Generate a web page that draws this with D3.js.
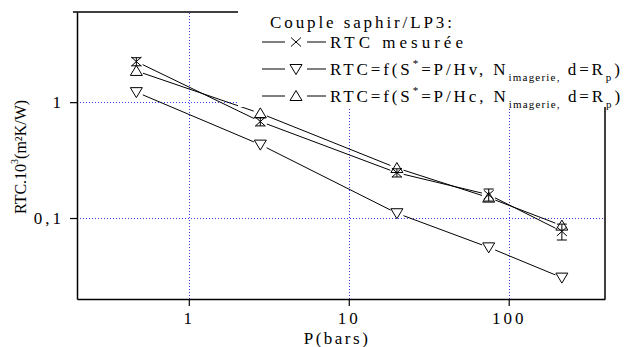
<!DOCTYPE html>
<html>
<head>
<meta charset="utf-8">
<script src="https://cdn.jsdelivr.net/npm/d3@7"></script>
<style>
body { margin: 0; background: #fff; }
svg text { font-family: "Liberation Serif", "Times New Roman", Times, serif !important; fill: #000; }
</style>
</head>
<body>
<script>
// data
const pressure = [0.47, 2.8, 20, 75, 215];
const rtcMesuree = [2.24, 0.68, 0.246, 0.159, 0.0766];
const rtcErr = [0.18, 0.056, 0.02, 0.019, 0.012];
const rtcHv = [1.22, 0.43, 0.110, 0.0558, 0.0306];
const rtcHc = [1.86, 0.80, 0.27, 0.15, 0.086];
const xMajor = [1, 10, 100];
const xMinor = [0.2, 0.3, 0.4, 0.5, 0.6, 0.7, 0.8, 0.9, 2, 3, 4, 5, 6, 7, 8, 9, 20, 30, 40, 50, 60, 70, 80, 90, 200, 300, 400];
const yMajor = [0.1, 1];
const yMajorLabels = ['0,1', '1'];
const yMinor = [0.02, 0.03, 0.04, 0.05, 0.06, 0.07, 0.08, 0.09, 0.2, 0.3, 0.4, 0.5, 0.6, 0.7, 0.8, 0.9, 2, 3, 4, 5, 6];

function main() {
    const width = 624, height = 347;
    const svg = d3.select('body').append('svg')
        .attr('width', width)
        .attr('height', height)
        .attr('font-family', '"Liberation Serif", serif');

    const x = d3.scaleLog().domain([0.2, 400]).range([77, 605]);
    const y = d3.scaleLog().domain([0.02, 6]).range([299, 12]);

    // blue dotted grid
    const grid = svg.append('g')
        .attr('stroke', '#3b3bff')
        .attr('stroke-width', 1)
        .attr('stroke-dasharray', '1,2');
    grid.selectAll('.gx').data(xMajor).enter().append('line')
        .attr('x1', d => Math.round(x(d)) + 0.5).attr('x2', d => Math.round(x(d)) + 0.5)
        .attr('y1', y.range()[0]).attr('y2', y.range()[1]);
    grid.selectAll('.gy').data(yMajor).enter().append('line')
        .attr('y1', d => Math.round(y(d)) + 0.5).attr('y2', d => Math.round(y(d)) + 0.5)
        .attr('x1', x.range()[0]).attr('x2', x.range()[1]);

    // series lines with gaps at the markers
    const series = [rtcMesuree, rtcHv, rtcHc];
    const gap = 7;
    series.forEach(vals => {
        for (let i = 0; i < vals.length - 1; i++) {
            const x0 = x(pressure[i]), y0 = y(vals[i]);
            const x1 = x(pressure[i + 1]), y1 = y(vals[i + 1]);
            const len = Math.hypot(x1 - x0, y1 - y0);
            const ux = (x1 - x0) / len, uy = (y1 - y0) / len;
            svg.append('line')
                .attr('x1', x0 + ux * gap).attr('y1', y0 + uy * gap)
                .attr('x2', x1 - ux * gap).attr('y2', y1 - uy * gap)
                .attr('stroke', '#000').attr('stroke-width', 1);
        }
    });

    // markers
    const mk = svg.append('g').attr('fill', 'none').attr('stroke', '#000').attr('stroke-width', 1);
    mk.selectAll('.up').data(rtcHc).enter().append('path')
        .attr('transform', (d, i) => `translate(${x(pressure[i])},${y(d)})`)
        .attr('d', 'M0,-5.5L6,4.5L-6,4.5Z');
    mk.selectAll('.down').data(rtcHv).enter().append('path')
        .attr('transform', (d, i) => `translate(${x(pressure[i])},${y(d)})`)
        .attr('d', 'M0,5.5L6,-4.5L-6,-4.5Z');
    mk.selectAll('.cross').data(rtcMesuree).enter().append('path')
        .attr('transform', (d, i) => `translate(${x(pressure[i])},${y(d)})`)
        .attr('d', 'M-5,-4.5L5,4.5M5,-4.5L-5,4.5');
    // error bars on measured values
    mk.selectAll('.err').data(rtcMesuree).enter().append('path')
        .attr('d', (d, i) => {
            const cx = x(pressure[i]);
            const t = y(d + rtcErr[i]), b = y(d - rtcErr[i]);
            return `M${cx},${t}L${cx},${b}M${cx - 5},${t}L${cx + 5},${t}M${cx - 5},${b}L${cx + 5},${b}`;
        });

    // axes
    const xAxisG = svg.append('g').attr('transform', `translate(0,${y.range()[0]})`);
    xAxisG.call(d3.axisBottom(x).tickValues(xMinor).tickSize(4).tickFormat('').tickSizeOuter(0));
    xAxisG.call(d3.axisBottom(x).tickValues(xMajor).tickSize(7).tickFormat(d3.format('d')).tickSizeOuter(0));
    const yAxisG = svg.append('g').attr('transform', `translate(${x.range()[0]},0)`);
    yAxisG.call(d3.axisLeft(y).tickValues(yMinor).tickSize(4).tickFormat('').tickSizeOuter(0));
    yAxisG.call(d3.axisLeft(y).tickValues(yMajor).tickSize(7).tickFormat((d, i) => yMajorLabels[i]).tickSizeOuter(0));
    xAxisG.attr('font-family', '"Liberation Serif", serif');
    yAxisG.attr('font-family', '"Liberation Serif", serif');
    svg.selectAll('.domain').attr('stroke-width', 1.5);
    svg.selectAll('.tick line').attr('stroke-width', 1.2);
    xAxisG.selectAll('text').attr('font-size', 17).attr('letter-spacing', 3).attr('dy', '0.9em');
    yAxisG.selectAll('text').attr('font-size', 17).attr('letter-spacing', 3).attr('x', -13);

    // frame: top and right
    svg.append('line').attr('x1', 73).attr('x2', 240).attr('y1', 12).attr('y2', 12)
        .attr('stroke', '#000').attr('stroke-width', 1.5);
    svg.append('line').attr('x1', 605).attr('x2', 605).attr('y1', 12).attr('y2', 299)
        .attr('stroke', '#000').attr('stroke-width', 1.5);

    // legend with white background
    svg.append('rect').attr('x', 238).attr('y', 0).attr('width', 386).attr('height', 107).attr('fill', '#fff');
    const lg = svg.append('g').attr('font-size', 17);
    lg.append('text').attr('x', 270).attr('y', 28).attr('letter-spacing', 2.9).text('Couple saphir/LP3:');
    const rows = [
        { yy: 48, shape: 'cross' },
        { yy: 75, shape: 'down' },
        { yy: 102, shape: 'up' }
    ];
    rows.forEach(r => {
        const cy = r.yy - 6;
        lg.append('line').attr('x1', 262).attr('x2', 285).attr('y1', cy).attr('y2', cy).attr('stroke', '#000');
        lg.append('line').attr('x1', 307).attr('x2', 326).attr('y1', cy).attr('y2', cy).attr('stroke', '#000');
        let d;
        if (r.shape === 'cross') d = 'M-5,-4.5L5,4.5M5,-4.5L-5,4.5';
        else if (r.shape === 'down') d = 'M0,5.5L6,-4.5L-6,-4.5Z';
        else d = 'M0,-5.5L6,4.5L-6,4.5Z';
        lg.append('path').attr('transform', `translate(296,${cy})`).attr('d', d)
            .attr('fill', 'none').attr('stroke', '#000');
    });
    lg.append('text').attr('x', 330).attr('y', 48).attr('letter-spacing', 4).text('RTC mesurée');
    [['v', 75], ['c', 102]].forEach(([h, yy]) => {
        const t = lg.append('text').attr('x', 330).attr('y', yy).attr('letter-spacing', 2.9);
        t.append('tspan').text('RTC=f(S');
        t.append('tspan').attr('font-size', 11).attr('dy', -8).text('*');
        t.append('tspan').attr('dy', 8).text('=P/H' + h + ', N');
        t.append('tspan').attr('font-size', 11).attr('dy', 6).attr('letter-spacing', 1.2).text('imagerie,');
        t.append('tspan').attr('dy', -6).text(' d=R');
        t.append('tspan').attr('font-size', 11).attr('dy', 6).text('p');
        t.append('tspan').attr('dy', -6).text(')');
    });

    // axis titles
    svg.append('text').attr('x', 337).attr('y', 344).attr('text-anchor', 'middle')
        .attr('font-size', 17).attr('letter-spacing', 2.5).text('P(bars)');
    const yl = svg.append('text').attr('transform', 'translate(26,157) rotate(-90)')
        .attr('text-anchor', 'middle').attr('font-size', 16);
    yl.append('tspan').text('RTC.10');
    yl.append('tspan').attr('font-size', 10).attr('dy', -8).text('3');
    yl.append('tspan').attr('dy', 8).text('(m²K/W)');
}

main();
</script>
</body>
</html>
